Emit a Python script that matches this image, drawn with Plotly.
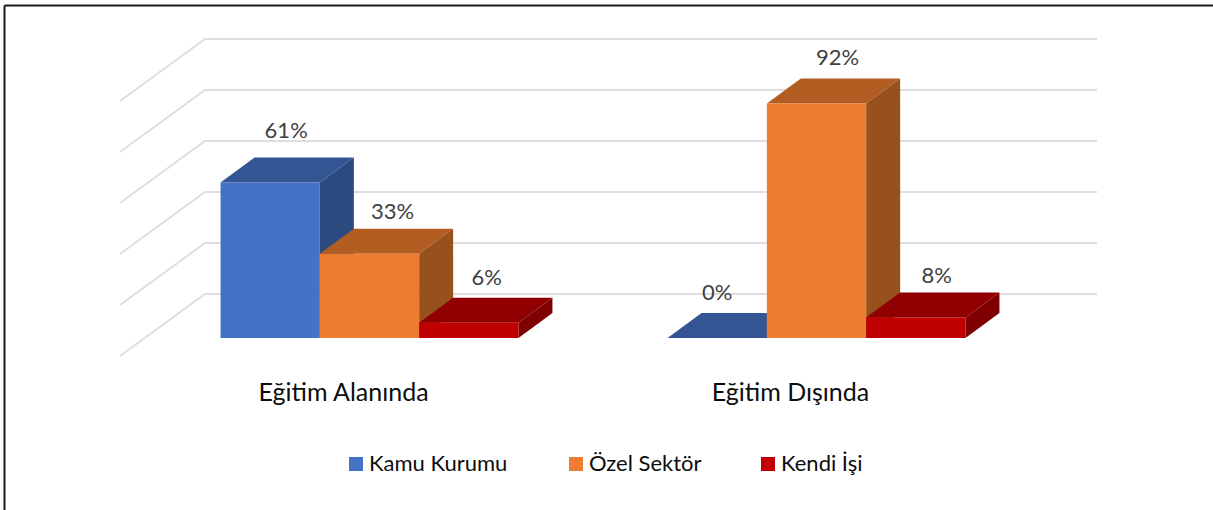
import plotly.graph_objects as go

categories = ["Eğitim Alanında", "Eğitim Dışında"]
series_names = ["Kamu Kurumu", "Özel Sektör", "Kendi İşi"]
kamu_values = [61, 0]
ozel_values = [33, 92]
kendi_values = [6, 8]
grid_ticks = [0, 20, 40, 60, 80, 100]

front_colors = ["#4472C4", "#ED7D31", "#C00000"]
top_colors = ["#335593", "#B25E22", "#900000"]
side_colors = ["#2A4A80", "#96511C", "#7F0000"]

W, H = 1213, 510
PLOT_BOTTOM = 375
BAR_PX = 99.3       # one bar is one x unit
PCT_PX = 2.55       # pixels per percent
ORIGIN_X = 369.5    # pixel of first group's centre
ORIGIN_Y = 338      # pixel of the bar baseline
GROUP_STEP = 447 / BAR_PX

DEPTH_X = 34 / BAR_PX
DEPTH_Y = 25 / PCT_PX
WALL_LEFT = (120 - ORIGIN_X) / BAR_PX
WALL_BACK = (205 - ORIGIN_X) / BAR_PX
WALL_RIGHT = (1097 - ORIGIN_X) / BAR_PX
WALL_FRONT_Y = (ORIGIN_Y - 356) / PCT_PX
WALL_BACK_Y = (ORIGIN_Y - 294) / PCT_PX

# nudges of the value labels, in pixels, per series then group
label_shift_x = [[16, 0], [23, 21], [18, 21]]
label_shift_y = [[25, 19], [15, 19], [18, 15]]
tick_shift = -26 / BAR_PX


def to_x(px):
    return (px - ORIGIN_X) / BAR_PX


def to_y(py):
    return (ORIGIN_Y - py) / PCT_PX


def paper_x(px):
    return px / W


def paper_y(py):
    return (PLOT_BOTTOM - py) / PLOT_BOTTOM


def polygon(xs, ys, color):
    return go.Scatter(x=xs, y=ys, mode="lines", fill="toself", fillcolor=color,
                      line=dict(width=0), hoverinfo="skip", showlegend=False)


fig = go.Figure()

# oblique wall and back grid lines
for tick in grid_ticks:
    fig.add_trace(go.Scatter(
        x=[WALL_LEFT, WALL_BACK, WALL_RIGHT],
        y=[tick + WALL_FRONT_Y, tick + WALL_BACK_Y, tick + WALL_BACK_Y],
        mode="lines", line=dict(color="#DEDEDE", width=2),
        hoverinfo="skip", showlegend=False,
    ))

all_values = [kamu_values, ozel_values, kendi_values]
label_x, label_y, label_text = [], [], []

for g in range(len(categories)):
    center = g * GROUP_STEP
    for s, values in enumerate(all_values):
        val = values[g]
        left = center + s - 1.5
        right = left + 1
        fig.add_trace(polygon(
            [left, right, right + DEPTH_X, left + DEPTH_X, left],
            [val, val, val + DEPTH_Y, val + DEPTH_Y, val], top_colors[s]))
        if val > 0:
            fig.add_trace(polygon(
                [right, right + DEPTH_X, right + DEPTH_X, right, right],
                [0, DEPTH_Y, val + DEPTH_Y, val, 0], side_colors[s]))
            fig.add_trace(polygon(
                [left, right, right, left, left],
                [0, 0, val, val, 0], front_colors[s]))
        label_x.append(left + 0.5 + label_shift_x[s][g] / BAR_PX)
        label_y.append(val + DEPTH_Y + label_shift_y[s][g] / PCT_PX)
        label_text.append(f"{val}%")

fig.add_trace(go.Scatter(
    x=label_x, y=label_y, text=label_text, mode="text", textposition="middle center",
    textfont=dict(family="Lato", size=22, color="#404040"),
    hoverinfo="skip", showlegend=False,
))

# legend row by hand: the keys sit closer to their text than plotly's legend allows
legend_px = [349, 569, 761]
for name, color, px in zip(series_names, front_colors, legend_px):
    fig.add_shape(type="rect", xref="paper", yref="paper", fillcolor=color, line=dict(width=0),
                  x0=paper_x(px), x1=paper_x(px + 14), y0=paper_y(457), y1=paper_y(471))
    fig.add_annotation(text=name, xref="paper", yref="paper", x=paper_x(px + 18), y=paper_y(462.5),
                       xanchor="left", yanchor="middle", showarrow=False,
                       font=dict(family="Lato", size=22, color="#0D0D0D"))

# the picture is only framed on its top and left edges
frame = dict(color="#1A1A1A", width=2)
fig.add_shape(type="line", xref="paper", yref="paper", line=frame,
              x0=paper_x(4.5), x1=1, y0=paper_y(5.5), y1=paper_y(5.5))
fig.add_shape(type="line", xref="paper", yref="paper", line=frame,
              x0=paper_x(4.5), x1=paper_x(4.5), y0=paper_y(5.5), y1=paper_y(H))

fig.update_layout(
    width=W, height=H,
    margin=dict(l=0, r=0, t=0, b=H - PLOT_BOTTOM, pad=0),
    paper_bgcolor="white", plot_bgcolor="white",
    showlegend=False,
    font=dict(family="Lato"),
)
fig.update_xaxes(
    range=[to_x(0), to_x(W)], showgrid=False, zeroline=False, showline=False,
    tickmode="array", ticks="", ticklen=0,
    tickvals=[g * GROUP_STEP + tick_shift for g in range(len(categories))],
    ticktext=categories,
    tickfont=dict(family="Lato", size=25, color="#0D0D0D"),
)
fig.update_yaxes(range=[to_y(PLOT_BOTTOM), to_y(0)], visible=False)

# the page's default body margin would push the figure 8px off
fig.write_html("out.html", config=dict(displayModeBar=False),
               post_script="document.body.style.margin='0';document.body.style.overflow='hidden';")
